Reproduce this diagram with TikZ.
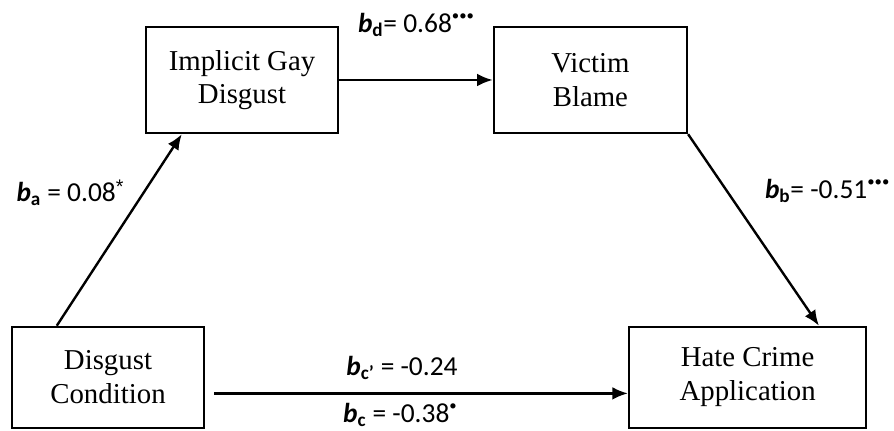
\documentclass[tikz,border=0pt]{standalone}
\usepackage{fontspec}
\setmainfont{Liberation Serif}
\newfontfamily\coeffont{Carlito}
\newfontfamily\starfont{Liberation Sans}
\usetikzlibrary{arrows.meta,positioning}
\newcommand{\bcoef}[1]{{\bfseries\itshape b}\textsubscript{\bfseries #1}}
\newcommand{\sig}[1]{\raisebox{0.45em}{\fontsize{10.5}{10}\selectfont #1}}

\begin{document}
\begin{tikzpicture}[
	var/.style={draw,line width=1.7pt,align=center,inner sep=0pt,
		font=\fontsize{20.5}{24}\selectfont},
	path/.style={line width=1.7pt,-{Latex[length=11pt,width=9pt]}},
	coef/.style={font=\coeffont\fontsize{19.5}{22}\selectfont,inner sep=0pt}
]
	\useasboundingbox (0,0) rectangle (22.35,10.775);

	\node[var,minimum width=4.8cm,minimum height=2.65cm] (igd) at (6.05,8.775) {Implicit Gay\\Disgust};
	\node[var,minimum width=4.825cm,minimum height=2.65cm] (vb) at (14.76,8.775) {Victim\\Blame};
	\node[var,minimum width=4.8cm,minimum height=2.525cm] (dc) at (2.7,1.34) {Disgust\\Condition};
	\node[var,minimum width=5.925cm,minimum height=2.525cm] (hca) at (18.69,1.34) {Hate Crime\\Application};

	\draw[path] ([xshift=1.15cm]dc.north west) -- ([xshift=0.925cm]igd.south west);
	\draw[path] (igd.east) -- (vb.west);
	\draw[path] (vb.south east) -- ([xshift=4.775cm]hca.north west);
	\draw[path,shorten <=0.225cm] ([yshift=-0.4cm]dc.east) -- ([yshift=-0.4cm]hca.west);

	\node[coef] (ba) at (1.75,5.95) {\bcoef{a} = 0.08\raisebox{0.3em}{\starfont\fontsize{14}{14}\selectfont *}};
	\node[coef] (bd) at (10.4,10.15) {\bcoef{d}= 0.68\sig{•••}};
	\node[coef] (bb) at (20.68,6.0) {\bcoef{b}= -0.51\sig{•••}};
	\node[coef] (bcp) at (10.05,1.575) {\bcoef{c\textquoteright} = -0.24};
	\node[coef] (bc) at (10.0,0.4) {\bcoef{c} = -0.38\sig{•}};

\end{tikzpicture}
\end{document}
